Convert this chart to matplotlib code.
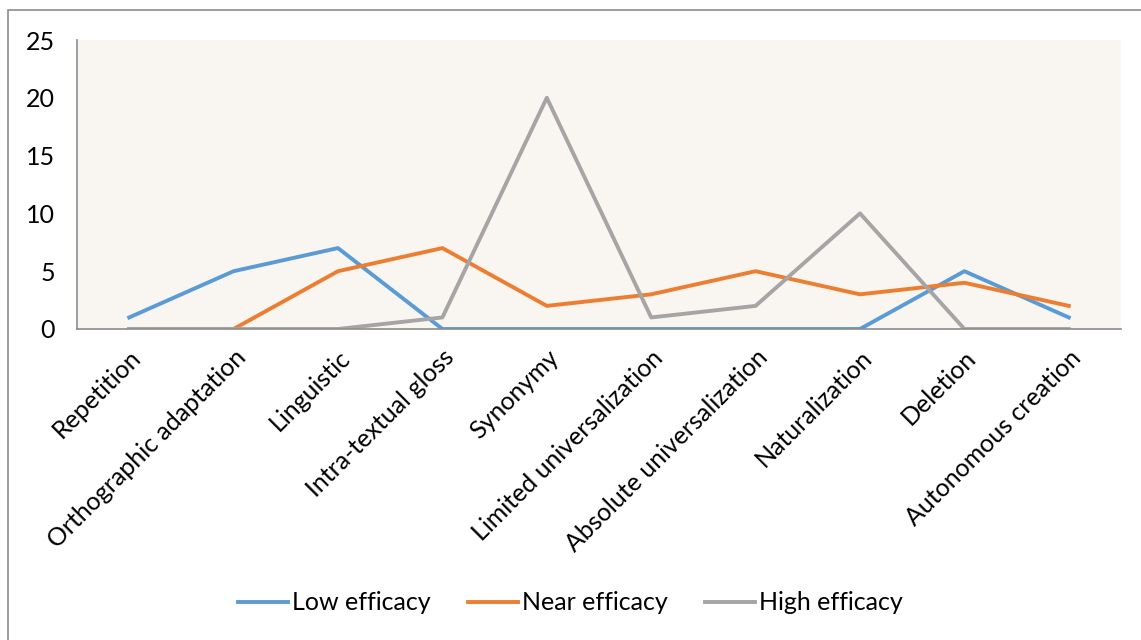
import matplotlib.pyplot as plt
from matplotlib.patches import Rectangle

categories = ['Repetition', 'Orthographic adaptation', 'Linguistic',
              'Intra-textual gloss', 'Synonymy', 'Limited universalization',
              'Absolute universalization', 'Naturalization', 'Deletion',
              'Autonomous creation']
low = [1, 5, 7, 0, 0, 0, 0, 0, 5, 1]
near = [0, 0, 5, 7, 2, 3, 5, 3, 4, 2]
high = [0, 0, 0, 1, 20, 1, 2, 10, 0, 0]

plt.rcParams['font.family'] = ['Lato', 'DejaVu Sans']

fig = plt.figure(figsize=(11.41, 6.40), dpi=100)
fig.patches.append(Rectangle((8 / 1141, -0.01), 1.02, 1 - 10 / 640 + 0.01,
                             transform=fig.transFigure, fill=False,
                             edgecolor='#8c8c8c', linewidth=1.2))
ax = fig.add_axes([77 / 1141, 1 - 329 / 640, (1121 - 77) / 1141, (329 - 40) / 640])
ax.set_facecolor('#f9f6f1')

x = list(range(len(categories)))
ax.plot(x, low, color='#5b9bd5', lw=2.8, label='Low efficacy')
ax.plot(x, near, color='#ed7d31', lw=2.8, label='Near efficacy')
ax.plot(x, high, color='#a5a5a5', lw=2.8, label='High efficacy')

ax.set_xlim(-0.5, 9.5)
ax.set_ylim(0, 25)
ax.set_yticks([0, 5, 10, 15, 20, 25])
ax.set_xticks(x)
ax.set_xticklabels(categories, rotation=45, ha='right', rotation_mode='anchor')
ax.tick_params(length=0, labelsize=18)
ax.tick_params(axis='y', pad=16)
ax.tick_params(axis='x', pad=12)
for s in ['top', 'right']:
    ax.spines[s].set_visible(False)
for s in ['left', 'bottom']:
    ax.spines[s].set_color('#8c8c8c')
    ax.spines[s].set_linewidth(1.2)

fig.legend(loc='center', bbox_to_anchor=(0.5, 1 - 603 / 640), ncol=3,
           frameon=False, fontsize=18, handlelength=2.0, columnspacing=1.5,
           handletextpad=0.15)

fig.savefig('out.png', dpi=100)
